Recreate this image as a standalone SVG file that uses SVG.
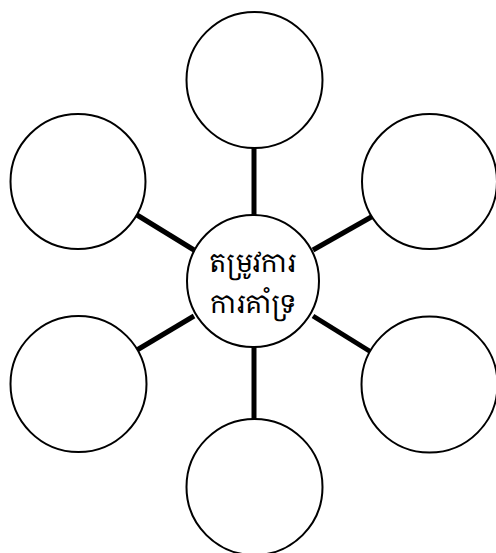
<svg xmlns="http://www.w3.org/2000/svg" width="496" height="553" viewBox="0 0 496 553">
<style>
.n{fill:#fff;stroke:#000;stroke-width:2}
.c{stroke:#000;stroke-width:5;fill:none}
.t{font-family:"Khmer OS Battambang","Khmer OS","Noto Serif Khmer","Noto Sans Khmer","Noto Sans",serif;font-size:26px;text-anchor:middle;fill:#000}
</style>
<rect width="496" height="553" fill="#fff"/>
<g id="connectors">
<line class="c" x1="254" y1="148" x2="254" y2="216"/>
<line class="c" x1="254" y1="347" x2="254" y2="419"/>
<line class="c" x1="313" y1="250" x2="373" y2="216"/>
<line class="c" x1="194" y1="250" x2="137" y2="215"/>
<line class="c" x1="194" y1="316" x2="137" y2="350"/>
<line class="c" x1="313" y1="316" x2="371" y2="352"/>
</g>
<g id="top"><circle class="n" cx="254.5" cy="80" r="68"/></g>
<g id="top-left"><circle class="n" cx="78" cy="181.5" r="67.5"/></g>
<g id="top-right"><circle class="n" cx="429.5" cy="181.5" r="67.5"/></g>
<g id="bottom-left"><circle class="n" cx="78.5" cy="384" r="68"/></g>
<g id="bottom-right"><circle class="n" cx="429.5" cy="384.5" r="68"/></g>
<g id="bottom"><circle class="n" cx="254.5" cy="487" r="68"/></g>
<g id="center">
<circle class="n" cx="253" cy="281" r="66"/>
<text class="t" x="253" y="272">តម្រូវការ</text>
<text class="t" x="253" y="313">ការគាំទ្រ</text>
</g>
</svg>
